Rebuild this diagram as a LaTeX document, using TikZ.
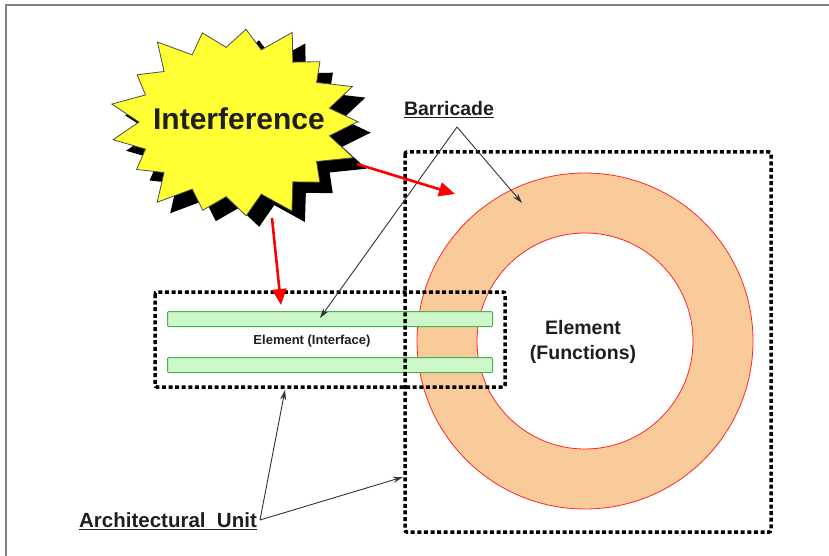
\documentclass[tikz,border=0pt]{standalone}
\usepackage{fontspec}
\setmainfont{Liberation Sans}
\usetikzlibrary{arrows.meta}
\definecolor{ringfill}{HTML}{FACB9A}
\definecolor{barfill}{HTML}{CCF7C8}
\definecolor{bardraw}{HTML}{4CAF50}
\definecolor{burst}{HTML}{FFFF33}
\tikzset{
 unitbox/.style={draw=black, line width=3.5pt, dash pattern=on 4pt off 2.6pt, rounded corners=2pt},
 bar/.style={draw=bardraw, fill=barfill, line width=1pt, rounded corners=1pt, inner sep=0pt,
   minimum width=325pt, minimum height=15pt, anchor=north west},
 pointer/.style={draw=black!80, line width=0.9pt, -{Stealth[length=10pt,width=6pt]}},
 hit/.style={draw=red, line width=2.6pt, -{Triangle[length=16pt,width=14pt]}},
 lbl/.style={text=black!88, inner sep=1pt}
}
\newcommand\burstpath{(357,122)
  \foreach \i in {1,...,17} {
    -- ({235+96*cos(\i*21.176-10.588)},{122+75*sin(\i*21.176-10.588)})
    -- ({235+122*(1+0.06*sin(137*\i))*cos(\i*21.176)},{122+95*(1+0.06*sin(137*\i))*sin(\i*21.176)})
  } -- cycle}
\begin{document}
\begin{tikzpicture}[x=1pt,y=-1pt]
\useasboundingbox (0,0) rectangle (829,556);
\fill[white] (0,0) rectangle (829,556);
\draw[gray, line width=2pt] (6,556) -- (6,5) -- (829,5);

% ring (barricade)
\fill[ringfill, even odd rule] (585,341) circle[radius=168pt] (585,341) circle[radius=108pt];
\draw[red!85, line width=0.8pt] (585,341) circle[radius=168pt];
\draw[red!85, line width=0.8pt] (585,341) circle[radius=108pt];

% interface bars
\node[bar] (bar1) at (167,311) {};
\node[bar] (bar2) at (167,357) {};

% architectural units
\draw[unitbox] (155,292) rectangle (505,387);
\draw[unitbox] (405,152) rectangle (771,532);

% texts
\node[lbl, font=\bfseries\fontsize{13}{15}\selectfont] (ifacetxt) at (312,341) {Element (Interface)};
\node[lbl, font=\bfseries\fontsize{19.5}{25}\selectfont, align=center] (functxt) at (583,342) {Element\\(Functions)};

% interference burst
\begin{scope}[shift={(13,11)}]
  \fill[black] \burstpath;
\end{scope}
\filldraw[fill=burst, draw=black!70, line width=0.8pt] \burstpath;
\node[lbl, font=\bfseries\fontsize{30}{34}\selectfont] (interf) at (239,119) {Interference};

% labels
\node[lbl, font=\bfseries\fontsize{19.5}{22}\selectfont] (barr) at (449,110) {\underline{Barricade}};
\node[lbl, font=\bfseries\fontsize{20.5}{22}\selectfont] (arch) at (168,521) {\underline{Architectural\ \ Unit}};

% coordinates
\coordinate (bapex) at (457,127);
\coordinate (bt1) at (320,318);
\coordinate (bt2) at (522,203);
\coordinate (aapex) at (260,520);
\coordinate (at1) at (285,390);
\coordinate (at2) at (403,477);
\coordinate (r1s) at (357,164);
\coordinate (r1e) at (455,194);
\coordinate (r2s) at (272,218);
\coordinate (r2e) at (281,305);

% connectors
\draw[pointer] (bapex) -- (bt1);
\draw[pointer] (bapex) -- (bt2);
\draw[pointer] (aapex) -- (at1);
\draw[pointer] (aapex) -- (at2);
\draw[hit] (r1s) -- (r1e);
\draw[hit] (r2s) -- (r2e);
\end{tikzpicture}
\end{document}
